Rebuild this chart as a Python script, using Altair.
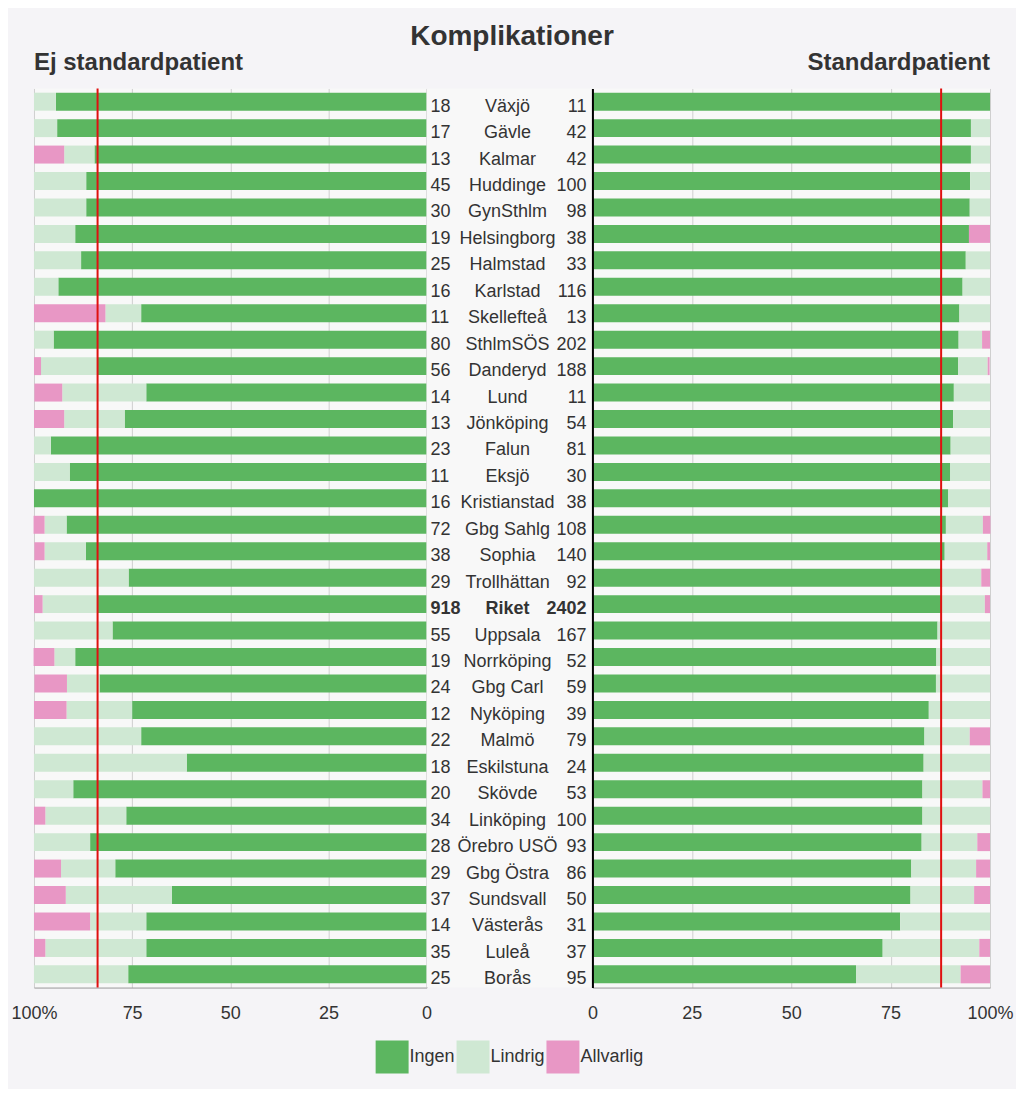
import altair as alt
import pandas as pd

names = ["Växjö", "Gävle", "Kalmar", "Huddinge", "GynSthlm", "Helsingborg", "Halmstad",
         "Karlstad", "Skellefteå", "SthlmSÖS", "Danderyd", "Lund", "Jönköping", "Falun",
         "Eksjö", "Kristianstad", "Gbg Sahlg", "Sophia", "Trollhättan", "Riket", "Uppsala",
         "Norrköping", "Gbg Carl", "Nyköping", "Malmö", "Eskilstuna", "Skövde", "Linköping",
         "Örebro USÖ", "Gbg Östra", "Sundsvall", "Västerås", "Luleå", "Borås"]

n_left = [18, 17, 13, 45, 30, 19, 25, 16, 11, 80, 56, 14, 13, 23, 11, 16, 72, 38, 29, 918,
          55, 19, 24, 12, 22, 18, 20, 34, 28, 29, 37, 14, 35, 25]
n_right = [11, 42, 42, 100, 98, 38, 33, 116, 13, 202, 188, 11, 54, 81, 30, 38, 108, 140, 92,
           2402, 167, 52, 59, 39, 79, 24, 53, 100, 93, 86, 50, 31, 37, 95]

# Ej standardpatient (%)
left_ingen = [94.4, 94.1, 84.6, 86.7, 86.7, 89.5, 88.0, 93.8, 72.7, 95.0, 83.9, 71.4, 76.9, 95.7,
              90.9, 100.0, 91.7, 86.8, 75.9, 83.8, 80.0, 89.5, 83.3, 75.0, 72.7, 61.1, 90.0, 76.5,
              85.7, 79.3, 64.9, 71.4, 71.4, 76.0]
left_lindrig = [5.6, 5.9, 7.7, 13.3, 13.3, 10.5, 12.0, 6.2, 9.1, 5.0, 14.3, 21.4, 15.4, 4.3,
                9.1, 0.0, 5.6, 10.5, 24.1, 14.0, 20.0, 5.3, 8.3, 16.7, 27.3, 38.9, 10.0, 20.6,
                14.3, 13.8, 27.0, 14.3, 25.7, 24.0]
left_allvarlig = [0.0, 0.0, 7.7, 0.0, 0.0, 0.0, 0.0, 0.0, 18.2, 0.0, 1.8, 7.1, 7.7, 0.0,
                  0.0, 0.0, 2.8, 2.6, 0.0, 2.2, 0.0, 5.3, 8.3, 8.3, 0.0, 0.0, 0.0, 2.9,
                  0.0, 6.9, 8.1, 14.3, 2.9, 0.0]

# Standardpatient (%)
right_ingen = [100.0, 95.2, 95.2, 95.0, 94.9, 94.7, 93.9, 93.1, 92.3, 92.1, 92.0, 90.9, 90.7,
               90.1, 90.0, 89.5, 88.9, 88.6, 88.0, 87.7, 86.8, 86.5, 86.4, 84.6, 83.5, 83.3,
               83.0, 83.0, 82.8, 80.2, 80.0, 77.4, 73.0, 66.3]
right_lindrig = [0.0, 4.8, 4.8, 5.0, 5.1, 0.0, 6.1, 6.9, 7.7, 5.9, 7.4, 9.1, 9.3, 9.9, 10.0,
                 10.5, 9.3, 10.7, 9.8, 11.0, 13.2, 13.5, 13.6, 15.4, 11.4, 16.7, 15.1, 17.0,
                 14.0, 16.3, 16.0, 22.6, 24.3, 26.3]
right_allvarlig = [0.0, 0.0, 0.0, 0.0, 0.0, 5.3, 0.0, 0.0, 0.0, 2.0, 0.5, 0.0, 0.0, 0.0, 0.0,
                   0.0, 1.9, 0.7, 2.2, 1.3, 0.0, 0.0, 0.0, 0.0, 5.1, 0.0, 1.9, 0.0, 3.2, 3.5,
                   4.0, 0.0, 2.7, 7.4]

cats = ["Ingen", "Lindrig", "Allvarlig"]
cat_colors = ["#5cb660", "#cfe8d3", "#e897c5"]

FONT = "Liberation Sans"
TXT = "#333333"


def to_long(ing, lin, allv):
    rows = []
    for i, nm in enumerate(names):
        for k, (c, v) in enumerate(zip(cats, [ing[i], lin[i], allv[i]])):
            rows.append({"name": nm, "kat": c, "ord": k, "pct": v})
    return pd.DataFrame(rows)


dfL = to_long(left_ingen, left_lindrig, left_allvarlig)
dfR = to_long(right_ingen, right_lindrig, right_allvarlig)
riket_i = names.index("Riket")
refL = pd.DataFrame({"v": [left_ingen[riket_i]]})
refR = pd.DataFrame({"v": [right_ingen[riket_i]]})

W_L, W_M, W_R, H = 393, 166, 398, 900

yscale = alt.Scale(domain=names, paddingInner=0.32, paddingOuter=0.16)

color = alt.Color(
    "kat:N",
    scale=alt.Scale(domain=cats, range=cat_colors),
    legend=alt.Legend(title=None, orient="none", direction="horizontal",
                      legendX=342, legendY=953, symbolType="square", symbolSize=1089,
                      symbolStrokeWidth=0, labelFontSize=18, labelOffset=1,
                      columnPadding=1, labelColor=TXT, labelFont=FONT),
)


def xaxis():
    return alt.Axis(values=[0, 25, 50, 75, 100],
                    labelExpr="datum.value == 100 ? '100%' : datum.label",
                    title=None, grid=True, gridColor="#cfcfcf", ticks=False,
                    domainColor="#999999", labelPadding=17, labelFontSize=18,
                    labelFlush=False, labelOverlap=False,
                    labelColor=TXT, labelFont=FONT)


left_bars = alt.Chart(dfL).mark_bar().encode(
    x=alt.X("pct:Q", stack="zero",
            scale=alt.Scale(domain=[0, 100], reverse=True, nice=False), axis=xaxis()),
    y=alt.Y("name:N", scale=yscale,
            axis=alt.Axis(orient="right", labels=False, ticks=False, title=None,
                          domainColor="#aaaaaa", grid=False)),
    color=color,
    order=alt.Order("ord:Q"),
)
left_rule = alt.Chart(refL).mark_rule(color="#e01010", strokeWidth=2).encode(x="v:Q")
left = alt.layer(left_bars, left_rule).properties(
    width=W_L, height=H,
    title=alt.TitleParams("Ej standardpatient", anchor="start", frame="group", fontSize=24,
                          font=FONT, fontWeight="bold", color=TXT, offset=12),
)

right_bars = alt.Chart(dfR).mark_bar().encode(
    x=alt.X("pct:Q", stack="zero", scale=alt.Scale(domain=[0, 100], nice=False), axis=xaxis()),
    y=alt.Y("name:N", scale=yscale,
            axis=alt.Axis(orient="left", labels=False, ticks=False, title=None,
                          domainColor="#000000", domainWidth=2, grid=False, zindex=1)),
    color=color,
    order=alt.Order("ord:Q"),
)
right_rule = alt.Chart(refR).mark_rule(color="#e01010", strokeWidth=2).encode(x="v:Q")
right = alt.layer(right_bars, right_rule).properties(
    width=W_R, height=H,
    title=alt.TitleParams("Standardpatient", anchor="end", frame="group", fontSize=24,
                          font=FONT, fontWeight="bold", color=TXT, offset=12),
)

mid_df = pd.DataFrame({"name": names, "nl": n_left, "nr": n_right})
base = alt.Chart(mid_df).encode(y=alt.Y("name:N", scale=yscale, axis=None))
layers = []
for weight, flt in [("normal", "datum.name != 'Riket'"), ("bold", "datum.name == 'Riket'")]:
    b = base.transform_filter(flt)
    layers.append(b.mark_text(align="left", baseline="middle", dy=5, fontSize=18, font=FONT,
                              fontWeight=weight, color=TXT).encode(
        x=alt.value(4), text=alt.Text("nl:Q", format="d")))
    layers.append(b.mark_text(align="center", baseline="middle", dy=5, fontSize=18, font=FONT,
                              fontWeight=weight, color=TXT).encode(
        x=alt.value(81), text="name:N"))
    layers.append(b.mark_text(align="right", baseline="middle", dy=5, fontSize=18, font=FONT,
                              fontWeight=weight, color=TXT).encode(
        x=alt.value(160), text=alt.Text("nr:Q", format="d")))
mid = alt.layer(*layers).properties(width=W_M, height=H)

chart = alt.hconcat(left, mid, right, spacing=0, bounds="flush").properties(
    title=alt.TitleParams("Komplikationer", fontSize=28, font=FONT, fontWeight="bold",
                          color=TXT, anchor="middle", offset=0),
    padding={"left": 2, "right": 2, "top": 15, "bottom": 15},
    background="#f5f4f7",
).configure_view(stroke=None, fill="#f8f8f8")

chart.save("out.html", embed_options={"renderer": "svg", "actions": False})
